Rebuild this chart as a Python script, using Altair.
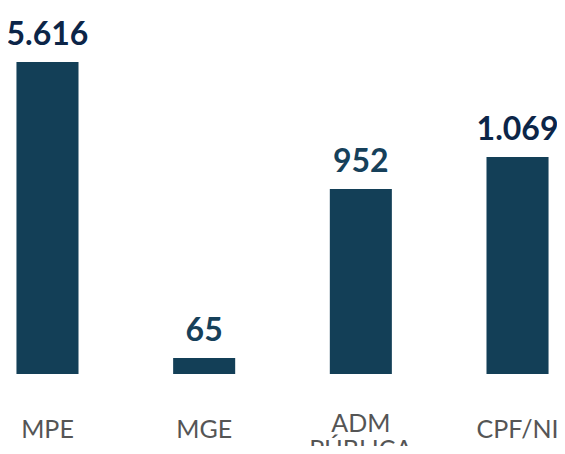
import altair as alt
import pandas as pd

categories = ["MPE", "MGE", "ADM PÚBLICA", "CPF/NI"]
value_labels = ["5.616", "65", "952", "1.069"]
# bar lengths as drawn in the picture (not proportional to the printed values)
bar_lengths = [312, 16, 185, 217]

df = pd.DataFrame({"cat": categories, "label": value_labels, "length": bar_lengths})

x = alt.X("cat:N", sort=categories, axis=None,
          scale=alt.Scale(paddingInner=0.604, paddingOuter=0.054))
y = alt.Y("length:Q", axis=None,
          scale=alt.Scale(domain=[0, 366], nice=False, zero=True))

bars = alt.Chart(df).mark_bar(color="#133f57").encode(x=x, y=y)

labels = alt.Chart(df).mark_text(
    font="Lato", fontWeight="bold", fontSize=32, dy=-17, baseline="alphabetic"
).encode(
    x=x, y=y, text="label:N",
    color=alt.condition(
        alt.FieldOneOfPredicate(field="cat", oneOf=["MPE", "CPF/NI"]),
        alt.value("#0c2548"), alt.value("#16405a"))
)

cat_single = alt.Chart(df).transform_filter(
    alt.datum.cat != "ADM PÚBLICA"
).mark_text(
    font="Lato", fontSize=25, color="#555555", baseline="alphabetic"
).encode(x=x, y=alt.value(430), text="cat:N")

cat_multi = alt.Chart(df).transform_filter(
    alt.datum.cat == "ADM PÚBLICA"
).mark_text(
    font="Lato", fontSize=25, color="#555555", baseline="alphabetic",
    lineBreak=" ", lineHeight=26
).encode(x=x, y=alt.value(424), text="cat:N")

chart = (bars + labels + cat_single + cat_multi).properties(
    width=549, height=366,
    padding={"left": 0, "right": 0, "top": 0, "bottom": 72},
    autosize=alt.AutoSizeParams(type="none"),
).configure_view(stroke=None)

chart.save("out.html", embed_options={"renderer": "svg", "actions": False})
